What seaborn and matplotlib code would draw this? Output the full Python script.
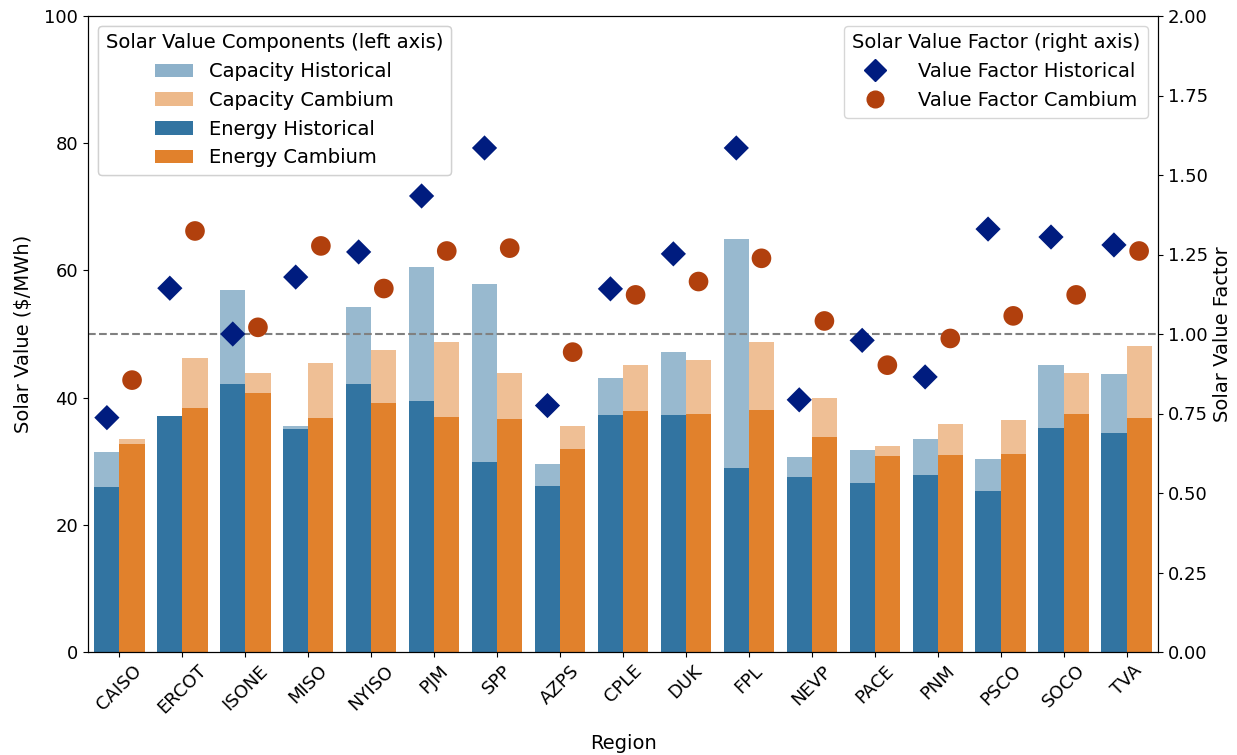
import numpy as np
import pandas as pd
import matplotlib
matplotlib.use("Agg")
import matplotlib.pyplot as plt
from matplotlib.patches import Patch
from matplotlib.lines import Line2D
import seaborn as sns

plt.rcParams["font.size"] = 13

regions = ["CAISO", "ERCOT", "ISONE", "MISO", "NYISO", "PJM", "SPP", "AZPS", "CPLE",
           "DUK", "FPL", "NEVP", "PACE", "PNM", "PSCO", "SOCO", "TVA"]

# $/MWh
energy_hist = [26.0, 37.1, 42.1, 35.0, 42.1, 39.5, 29.8, 26.1, 37.3,
               37.3, 28.9, 27.5, 26.5, 27.9, 25.3, 35.2, 34.4]
capacity_hist = [5.5, 0.0, 14.8, 0.6, 12.1, 21.1, 28.0, 3.4, 5.8,
                 9.9, 36.0, 3.2, 5.3, 5.6, 5.0, 10.0, 9.3]
energy_cam = [32.7, 38.4, 40.7, 36.8, 39.2, 37.0, 36.6, 31.9, 37.9,
              37.5, 38.0, 33.8, 30.8, 30.9, 31.1, 37.5, 36.8]
capacity_cam = [0.8, 7.9, 3.2, 8.6, 8.3, 11.7, 7.3, 3.7, 7.2,
                8.4, 10.8, 6.1, 1.6, 4.9, 5.4, 6.4, 11.3]

vf_hist = [0.737, 1.144, 1.000, 1.179, 1.258, 1.434, 1.585, 0.775, 1.142,
           1.252, 1.585, 0.793, 0.980, 0.865, 1.330, 1.305, 1.280]
vf_cam = [0.855, 1.324, 1.021, 1.277, 1.143, 1.261, 1.270, 0.943, 1.123,
          1.165, 1.238, 1.041, 0.902, 0.986, 1.057, 1.123, 1.261]

df = pd.DataFrame({
    "Region": regions * 2,
    "Source": ["Historical"] * len(regions) + ["Cambium"] * len(regions),
    "Energy": energy_hist + energy_cam,
    "Capacity": capacity_hist + capacity_cam,
})
df["Total"] = df["Energy"] + df["Capacity"]

pos = np.arange(len(regions))
vf = pd.DataFrame({
    "x": np.concatenate([pos - 0.2, pos + 0.2]),
    "VF": vf_hist + vf_cam,
    "Source": ["Historical"] * len(regions) + ["Cambium"] * len(regions),
})

pal = ["tab:blue", "tab:orange"]
dark = sns.color_palette("dark")

fig, ax = plt.subplots(figsize=(12.37, 7.55), dpi=100)
fig.subplots_adjust(left=88 / 1237, right=1158 / 1237, top=1 - 16 / 755, bottom=1 - 652 / 755)

# light bars = energy + capacity, dark bars = energy on top
sns.barplot(data=df, x="Region", y="Total", hue="Source", palette=pal, alpha=0.5, ax=ax, legend=False)
sns.barplot(data=df, x="Region", y="Energy", hue="Source", palette=pal, ax=ax, legend=False)
ax.set_ylim(0, 100)
ax.set_ylabel("Solar Value ($/MWh)", fontsize=14, labelpad=8)
ax.set_xlabel("Region", fontsize=14, labelpad=12)
ax.tick_params(axis="x", rotation=45)

ax2 = ax.twinx()
sns.scatterplot(data=vf[vf.Source == "Historical"], x="x", y="VF", marker="D", s=165,
                color=dark[0], edgecolor="none", ax=ax2, zorder=3)
sns.scatterplot(data=vf[vf.Source == "Cambium"], x="x", y="VF", marker="o", s=200,
                color=dark[1], edgecolor="none", ax=ax2, zorder=3)
ax2.axhline(1.0, color="gray", linestyle="--", linewidth=1.5)
ax2.set_ylim(0, 2)
ax2.set_yticks(np.arange(0, 2.01, 0.25))
ax2.set_ylabel("Solar Value Factor", fontsize=14)
ax.set_xlim(-0.5, len(regions) - 0.5)

desat = sns.color_palette(pal, desat=0.75)
handles = [
    Patch(facecolor=desat[0], alpha=0.5, label="Capacity Historical"),
    Patch(facecolor=desat[1], alpha=0.5, label="Capacity Cambium"),
    Patch(facecolor=desat[0], label="Energy Historical"),
    Patch(facecolor=desat[1], label="Energy Cambium"),
]
leg1 = ax.legend(handles=handles, title="Solar Value Components (left axis)", loc="upper left",
                 fontsize=14, title_fontsize=14)
ax.add_artist(leg1)

handles2 = [
    Line2D([], [], marker="D", linestyle="none", color=dark[0], markersize=11, label="Value Factor Historical"),
    Line2D([], [], marker="o", linestyle="none", color=dark[1], markersize=12, label="Value Factor Cambium"),
]
ax2.legend(handles=handles2, title="Solar Value Factor (right axis)", loc="upper right",
           fontsize=14, title_fontsize=14, handletextpad=1.2)

fig.savefig("out.png", dpi=100)
